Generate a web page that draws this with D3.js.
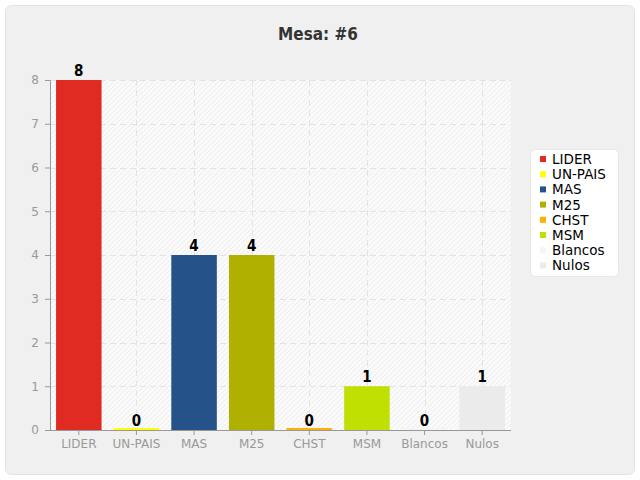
<!DOCTYPE html>
<html><head><meta charset="utf-8">
<script src="https://cdn.jsdelivr.net/npm/d3@7"></script>
<style>html,body{margin:0;padding:0;background:#fff;}svg{display:block;}</style>
</head><body>
<script>
const categories = ["LIDER","UN-PAIS","MAS","M25","CHST","MSM","Blancos","Nulos"];
const values = [8,0,4,4,0,1,0,1];
const colors = ["#e02b22","#ffff00","#245289","#b0b000","#ffb000","#bfe000","#f5f5f5","#ebebeb"];
const yTicks = [0,1,2,3,4,5,6,7,8];
const title = "Mesa: #6";

const W = 640, H = 480;
const svg = d3.select("body").append("svg").attr("width", W).attr("height", H);

// outer panel
svg.append("rect").attr("x",5.5).attr("y",5.5).attr("width",629).attr("height",469)
  .attr("rx",6).attr("fill","#f0f0f0").attr("stroke","#e2e2e2");

const plot = {l:50, r:511, t:80, b:430};
const x = d3.scaleBand().domain(categories).range([plot.l, plot.r]).paddingInner(0.21).paddingOuter(0.105);
const y = d3.scaleLinear().domain([0,8]).range([plot.b, plot.t]);

// hatch pattern
const defs = svg.append("defs");
const pat = defs.append("pattern").attr("id","hatch").attr("patternUnits","userSpaceOnUse")
  .attr("width",5).attr("height",5);
pat.append("rect").attr("width",5).attr("height",5).attr("fill","#fafafa");
pat.append("path").attr("d","M-1,1 l2,-2 M0,5 l5,-5 M4,6 l2,-2").attr("stroke","#ececec").attr("stroke-width",1);

svg.append("rect").attr("x",plot.l).attr("y",plot.t).attr("width",plot.r-plot.l).attr("height",plot.b-plot.t)
  .attr("fill","url(#hatch)");

// grid
const g = svg.append("g");
g.selectAll(".hg").data(yTicks.filter(d=>d>0)).join("line")
  .attr("x1",plot.l).attr("x2",plot.r).attr("y1",d=>Math.round(y(d))+0.5).attr("y2",d=>Math.round(y(d))+0.5)
  .attr("stroke","#e3e3e3").attr("stroke-dasharray","6,4");
g.selectAll(".vg").data(categories).join("line")
  .attr("x1",d=>Math.round(x(d)+x.bandwidth()/2)+0.5).attr("x2",d=>Math.round(x(d)+x.bandwidth()/2)+0.5)
  .attr("y1",plot.t).attr("y2",plot.b)
  .attr("stroke","#e3e3e3").attr("stroke-dasharray","6,4");

// bars
svg.selectAll(".bar").data(categories).join("rect")
  .attr("x",d=>x(d)).attr("width",x.bandwidth())
  .attr("y",(d,i)=> values[i]===0 ? plot.b-2 : y(values[i]))
  .attr("height",(d,i)=> values[i]===0 ? 2 : plot.b - y(values[i]))
  .attr("fill",(d,i)=>colors[i]);

// value labels
svg.selectAll(".vl").data(categories).join("text")
  .attr("x",d=>x(d)+x.bandwidth()/2)
  .attr("y",(d,i)=>y(values[i])-4)
  .attr("text-anchor","middle")
  .attr("font-family","'DejaVu Sans Condensed',sans-serif")
  .attr("font-weight","bold").attr("font-size",15).attr("fill","#000")
  .text((d,i)=>values[i]);

// axes
const yAxis = d3.axisLeft(y).tickValues(yTicks).tickSize(5).tickPadding(6);
const ya = svg.append("g").attr("transform",`translate(${plot.l},0)`).call(yAxis);
const xAxis = d3.axisBottom(x).tickSize(5).tickPadding(4);
const xa = svg.append("g").attr("transform",`translate(0,${plot.b})`).call(xAxis);
[ya,xa].forEach(a=>{
  a.select(".domain").attr("stroke","#999");
  a.selectAll(".tick line").attr("stroke","#999");
  a.selectAll("text").attr("fill","#999").attr("font-family","'DejaVu Sans',sans-serif").attr("font-size",12);
});
ya.select(".domain").attr("d",`M-5,${plot.t+0.5}H0.5V${plot.b+0.5}H0`);
xa.select(".domain").attr("d",`M${plot.l},0.5H${plot.r}`);

// title
svg.append("text").attr("x",318).attr("y",40).attr("text-anchor","middle")
  .attr("font-family","'DejaVu Sans Condensed',sans-serif")
  .attr("font-weight","bold").attr("font-size",17).attr("fill","#333").text(title);

// legend
const lg = svg.append("g");
lg.append("rect").attr("x",530.5).attr("y",149.5).attr("width",88).attr("height",127).attr("rx",5)
  .attr("fill","#fff").attr("stroke","#e8e8e8");
const items = lg.selectAll(".li").data(categories).join("g")
  .attr("transform",(d,i)=>`translate(540,${159+i*15.2})`);
items.append("rect").attr("x",0).attr("y",-3).attr("width",6).attr("height",6).attr("fill",(d,i)=>colors[i]);
items.append("text").attr("x",12).attr("y",5).attr("font-family","'DejaVu Sans',sans-serif")
  .attr("font-size",13.5).attr("fill","#000").text(d=>d);
</script>
</body></html>
